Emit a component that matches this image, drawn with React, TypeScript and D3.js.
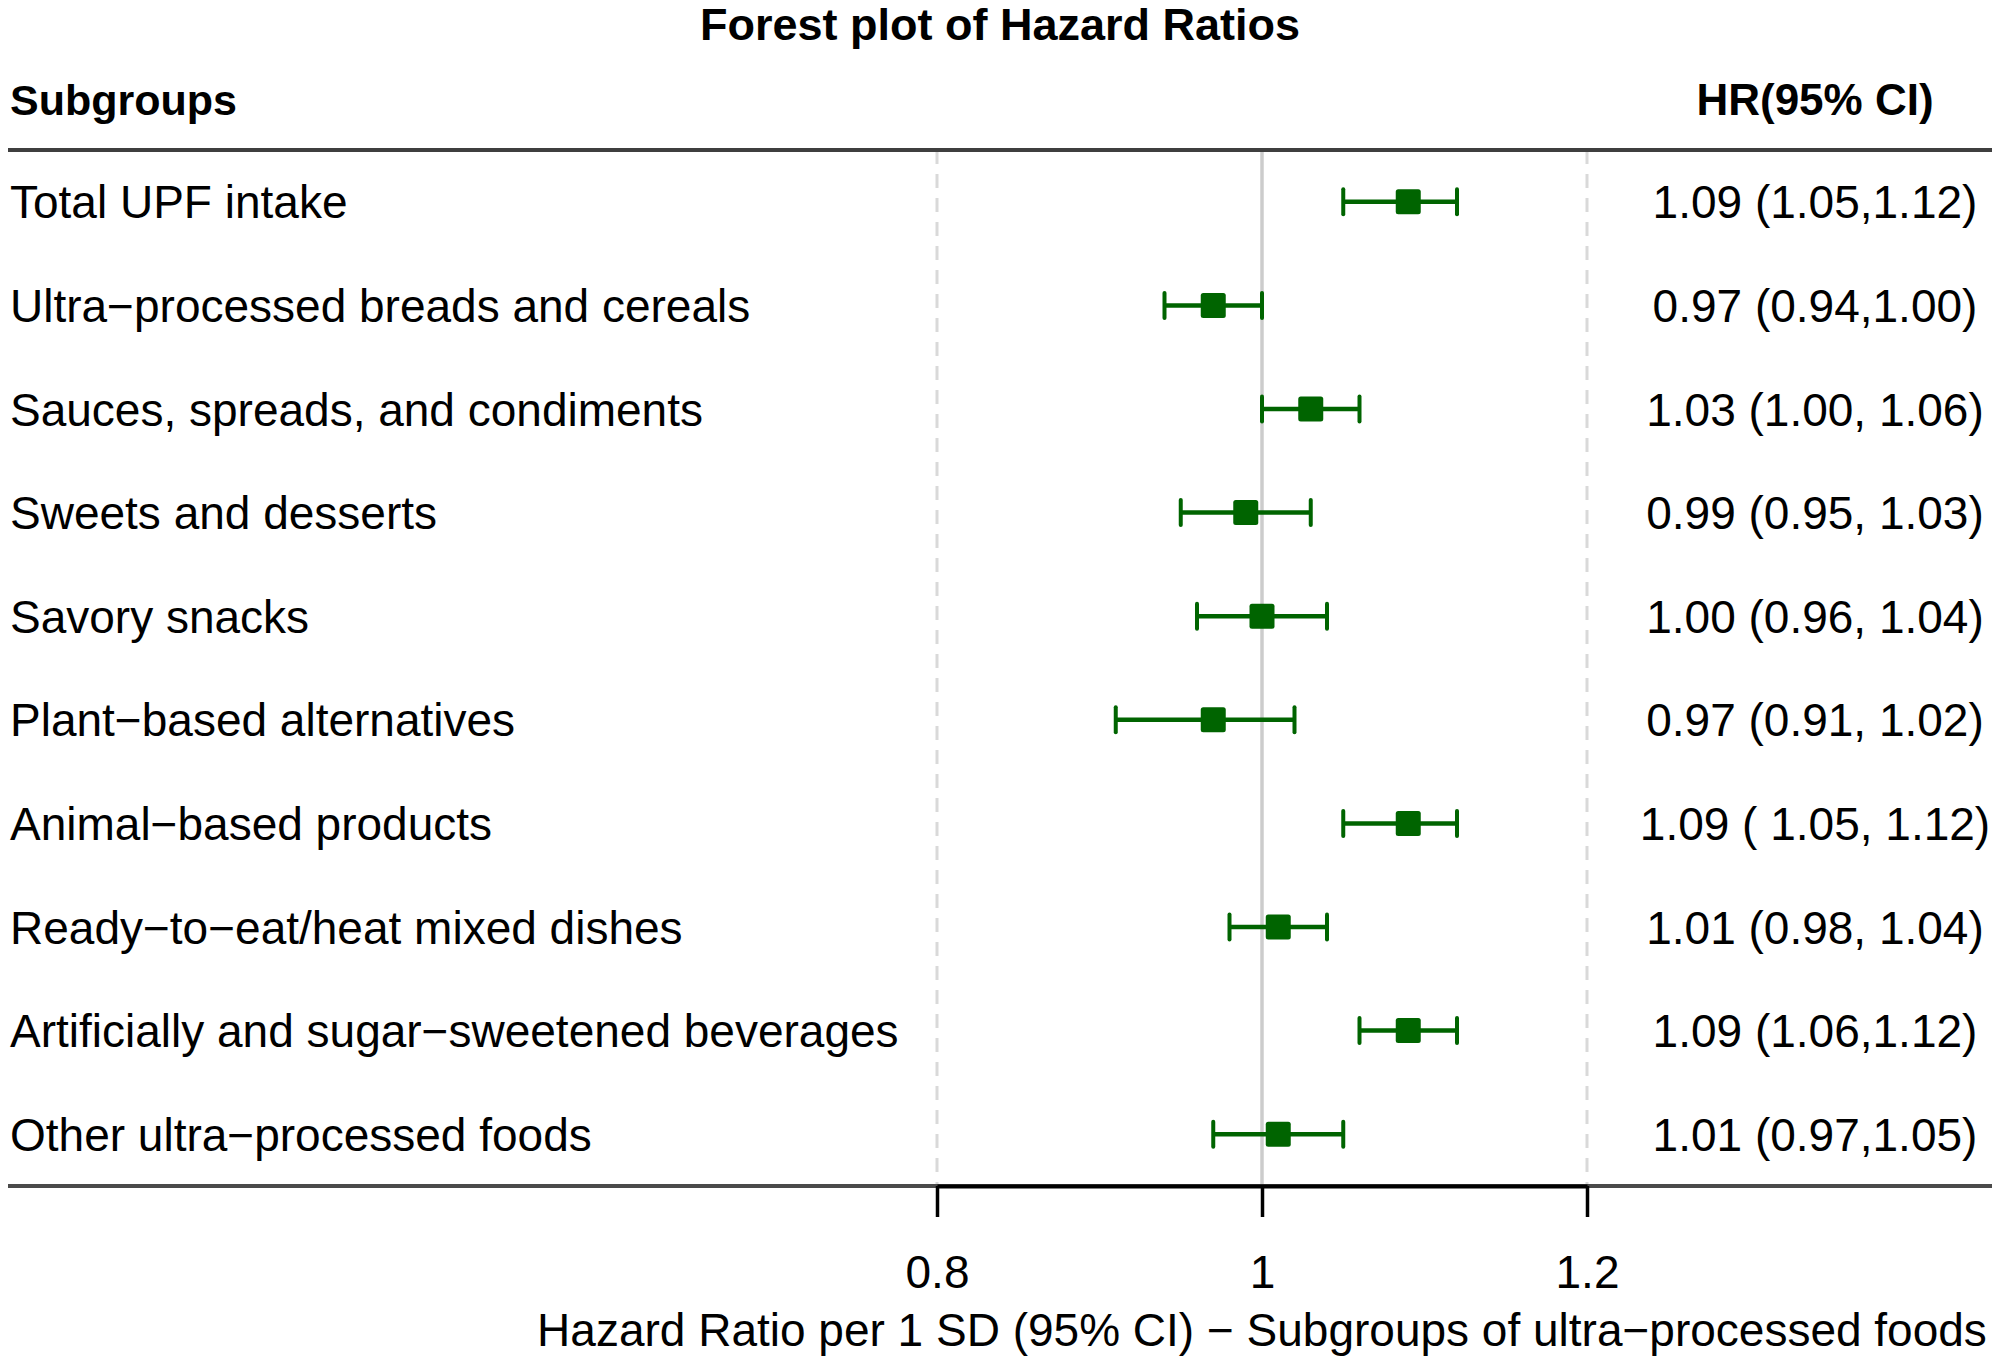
import { useRef, useEffect } from 'react';
import * as d3 from 'd3';

const WIDTH = 2000;
const HEIGHT = 1366;

const subgroups = [
  'Total UPF intake',
  'Ultra\u2212processed breads and cereals',
  'Sauces, spreads, and condiments',
  'Sweets and desserts',
  'Savory snacks',
  'Plant\u2212based alternatives',
  'Animal\u2212based products',
  'Ready\u2212to\u2212eat/heat mixed dishes',
  'Artificially and sugar\u2212sweetened beverages',
  'Other ultra\u2212processed foods',
];
const hr = [1.09, 0.97, 1.03, 0.99, 1.0, 0.97, 1.09, 1.01, 1.09, 1.01];
const lower = [1.05, 0.94, 1.0, 0.95, 0.96, 0.91, 1.05, 0.98, 1.06, 0.97];
const upper = [1.12, 1.0, 1.06, 1.03, 1.04, 1.02, 1.12, 1.04, 1.12, 1.05];
const ciLabels = [
  '1.09 (1.05,1.12)',
  '0.97 (0.94,1.00)',
  '1.03 (1.00, 1.06)',
  '0.99 (0.95, 1.03)',
  '1.00 (0.96, 1.04)',
  '0.97 (0.91, 1.02)',
  '1.09 ( 1.05, 1.12)',
  '1.01 (0.98, 1.04)',
  '1.09 (1.06,1.12)',
  '1.01 (0.97,1.05)',
];
const xTicks = [0.8, 1, 1.2];

const FONT = '"Liberation Sans", Arial, Helvetica, sans-serif';
const GREEN = '#006400';
const TEXT_SIZE = 46;

export default function App() {
  const svgRef = useRef<SVGSVGElement>(null);

  useEffect(() => {
    document.body.style.margin = '0';
    if (!svgRef.current) return;
    const svg = d3.select(svgRef.current);
    svg.selectAll('*').remove();

    const top = 150;
    const bottom = 1186;

    const x = d3.scaleLinear().domain([0.8, 1.2]).range([937, 1587]);
    const y = d3
      .scaleBand<number>()
      .domain(d3.range(subgroups.length))
      .range([top, bottom]);

    // ── Title and column headers ─────────────────────────────────────────
    svg.append('text')
      .attr('x', 1000).attr('y', 40)
      .attr('text-anchor', 'middle')
      .attr('font-family', FONT).attr('font-weight', 'bold')
      .attr('font-size', 45)
      .text('Forest plot of Hazard Ratios');

    svg.append('text')
      .attr('x', 10).attr('y', 115)
      .attr('font-family', FONT).attr('font-weight', 'bold')
      .attr('font-size', 43)
      .text('Subgroups');

    svg.append('text')
      .attr('x', 1815).attr('y', 115)
      .attr('text-anchor', 'middle')
      .attr('font-family', FONT).attr('font-weight', 'bold')
      .attr('font-size', 44)
      .text('HR(95% CI)');

    // ── Reference lines ──────────────────────────────────────────────────
    svg.append('g')
      .selectAll('line')
      .data([0.8, 1.2])
      .join('line')
      .attr('x1', (d) => x(d)).attr('x2', (d) => x(d))
      .attr('y1', top).attr('y2', bottom)
      .attr('stroke', '#d9d9d9')
      .attr('stroke-width', 3)
      .attr('stroke-dasharray', '14,10');

    svg.append('line')
      .attr('x1', x(1)).attr('x2', x(1))
      .attr('y1', top).attr('y2', bottom)
      .attr('stroke', '#cccccc')
      .attr('stroke-width', 3.5);

    // ── Table rules ──────────────────────────────────────────────────────
    svg.append('line')
      .attr('x1', 8).attr('x2', 1992)
      .attr('y1', top).attr('y2', top)
      .attr('stroke', '#3f3f3f').attr('stroke-width', 4);
    svg.append('line')
      .attr('x1', 8).attr('x2', 1992)
      .attr('y1', bottom).attr('y2', bottom)
      .attr('stroke', '#4a4a4a').attr('stroke-width', 4);

    // ── Rows ─────────────────────────────────────────────────────────────
    const rows = svg.append('g')
      .selectAll('g')
      .data(d3.range(subgroups.length))
      .join('g')
      .attr('transform', (i) => `translate(0,${y(i)! + y.bandwidth() / 2})`);

    rows.append('text')
      .attr('x', 10).attr('dy', '0.36em')
      .attr('font-family', FONT).attr('font-size', TEXT_SIZE)
      .text((i) => subgroups[i]);

    rows.append('text')
      .attr('x', 1815).attr('dy', '0.36em')
      .attr('text-anchor', 'middle')
      .attr('font-family', FONT).attr('font-size', TEXT_SIZE)
      .text((i) => ciLabels[i]);

    const cap = 12.5;
    rows.append('line')
      .attr('x1', (i) => x(lower[i])).attr('x2', (i) => x(upper[i]))
      .attr('stroke', GREEN).attr('stroke-width', 4.5);
    rows.append('line')
      .attr('x1', (i) => x(lower[i])).attr('x2', (i) => x(lower[i]))
      .attr('y1', -cap).attr('y2', cap)
      .attr('stroke', GREEN).attr('stroke-width', 4).attr('stroke-linecap', 'round');
    rows.append('line')
      .attr('x1', (i) => x(upper[i])).attr('x2', (i) => x(upper[i]))
      .attr('y1', -cap).attr('y2', cap)
      .attr('stroke', GREEN).attr('stroke-width', 4).attr('stroke-linecap', 'round');
    rows.append('rect')
      .attr('x', (i) => x(hr[i]) - 12.5).attr('y', -12.5)
      .attr('width', 25).attr('height', 25)
      .attr('rx', 2.5)
      .attr('fill', GREEN);

    // ── X axis ───────────────────────────────────────────────────────────
    svg.append('g')
      .attr('transform', `translate(0,${bottom})`)
      .call(d3.axisBottom(x).tickValues(xTicks).tickSize(31).tickSizeOuter(0).tickPadding(38)
        .tickFormat((d) => String(+d)))
      .call((sel) => {
        sel.select('.domain').attr('stroke', '#000').attr('stroke-width', 4);
        sel.selectAll('.tick line').attr('stroke', '#000').attr('stroke-width', 3.5);
        sel.selectAll('.tick text')
          .attr('fill', '#000')
          .attr('font-size', TEXT_SIZE)
          .attr('font-family', FONT);
      });

    svg.append('text')
      .attr('x', x(1)).attr('y', 1346)
      .attr('text-anchor', 'middle')
      .attr('font-family', FONT).attr('font-size', TEXT_SIZE)
      .text('Hazard Ratio per 1 SD (95% CI) \u2212 Subgroups of ultra\u2212processed foods');
  }, []);

  return (
    <svg
      ref={svgRef}
      width={WIDTH}
      height={HEIGHT}
      style={{ display: 'block', background: '#fff' }}
    />
  );
}
